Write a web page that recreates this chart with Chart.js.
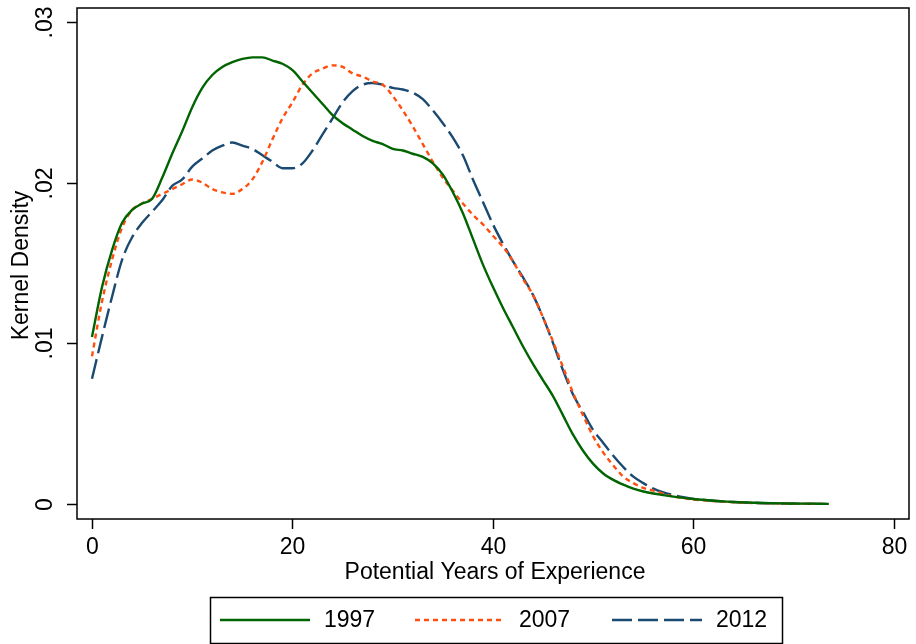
<!DOCTYPE html>
<html>
<head>
<meta charset="utf-8">
<script src="https://cdn.jsdelivr.net/npm/chart.js@4.4.1/dist/chart.umd.min.js"></script>
<style>
  html, body { margin: 0; padding: 0; background: #fff; }
  #wrap { width: 916px; height: 644px; }
</style>
</head>
<body>
<div id="wrap"><canvas id="kd" width="916" height="644"></canvas></div>
<script>
// ── Data (potential years of experience → kernel density) ──
const years = [0,1,2,3,4,5,6,7,8,9,10,11,12,13,14,15,16,17,18,19,20,21,22,23,24,25,26,27,28,29,
  30,31,32,33,34,35,36,37,38,39,40,41,42,43,44,45,46,47,48,49,50,51,52,53,54,55,56,57,58,59,
  60,61,62,63,64,65,66,67,68,69,70,71,72,73,73.5];

const dens1997 = [.0104,.0135,.0158,.0175,.0183,.0187,.0190,.0203,.0218,.0232,
  .0247,.0259,.0267,.0272,.0275,.0277,.0278,.0278,.0276,.0274,
  .0270,.0263,.0256,.0249,.0242,.0237,.0233,.0229,.0226,.0224,
  .0221,.0220,.0218,.0216,.0212,.0205,.0194,.0181,.0165,.0149,
  .0135,.0122,.0110,.0098,.0087,.0077,.0067,.0055,.0043,.0033,
  .0025,.0019,.0015,.0012,.00095,.00078,.00065,.00055,.00046,.00038,
  .00031,.00026,.00020,.00016,.00012,.00010,.00008,.00006,.00005,.00004,
  .00003,.00002,.00002,.00001,.00001];

const dens2007 = [.0092,.0126,.0152,.0172,.0183,.0187,.0190,.0193,.0196,.0199,
  .0202,.0200,.0196,.0194,.0193,.0196,.0202,.0213,.0227,.0240,
  .0250,.0261,.0268,.0271,.0273,.0272,.0268,.0266,.0263,.0261,
  .0254,.0245,.0235,.0224,.0213,.0203,.0195,.0187,.0180,.0174,
  .0167,.0160,.0151,.0140,.0130,.0116,.0101,.0085,.0069,.0055,
  .0042,.0032,.0024,.0017,.0013,.00100,.00083,.00064,.00046,.00036,
  .00028,.00023,.00018,.00014,.00011,.00008,.00006,.00005,.00004,.00003,
  .00002,.00002,.00001,.00001,.00001];

const dens2012 = [.0078,.0104,.0129,.0152,.0166,.0175,.0182,.0189,.0198,.0202,
  .0210,.0215,.0220,.0223,.0225,.0223,.0221,.0217,.0213,.0209,
  .0209,.0212,.0220,.0230,.0240,.0250,.0257,.0261,.0262,.0261,
  .0259,.0258,.0256,.0252,.0245,.0237,.0228,.0217,.0202,.0188,
  .0174,.0162,.0151,.0141,.0130,.0116,.0100,.0083,.0068,.0057,
  .0046,.0038,.0030,.0023,.0017,.0013,.00096,.00072,.00056,.00042,
  .00031,.00025,.00020,.00015,.00012,.00009,.00007,.00005,.00004,.00003,
  .00002,.00002,.00001,.00001,.00001];

const seriesNames = ['1997', '2007', '2012'];
const xTicks = [0, 20, 40, 60, 80];
const yTicks = [0, 0.01, 0.02, 0.03];
const yTickLabels = ['0', '.01', '.02', '.03'];

// ── Styles ──
const FONT = '"Liberation Sans", Arial, Helvetica, sans-serif';
const colors = ['#006400', '#ff4f10', '#1a4a72'];
const dashes = [[], [5, 4], [20, 6]];

const toPoints = vals => vals.map((v, i) => ({ x: years[i], y: v }));

const datasets = [dens1997, dens2007, dens2012].map((vals, i) => ({
  label: seriesNames[i],
  data: toPoints(vals),
  borderColor: colors[i],
  borderWidth: 2.4,
  borderDash: dashes[i],
  pointRadius: 0,
  fill: false,
  cubicInterpolationMode: 'monotone',
}));

// Stata-like frame, ticks, titles and boxed legend
const stataLook = {
  id: 'stataLook',
  afterDraw(chart) {
    const { ctx, chartArea: a, scales: { x, y } } = chart;
    ctx.save();
    ctx.strokeStyle = '#000';
    ctx.fillStyle = '#000';
    ctx.lineWidth = 1.5;
    ctx.strokeRect(a.left, a.top, a.right - a.left, a.bottom - a.top);

    ctx.font = '23px ' + FONT;
    ctx.textAlign = 'center';
    ctx.textBaseline = 'middle';
    xTicks.forEach(v => {
      const px = Math.round(x.getPixelForValue(v)) + 0.5;
      ctx.beginPath(); ctx.moveTo(px, a.bottom); ctx.lineTo(px, a.bottom + 10); ctx.stroke();
      ctx.fillText(String(v), px, a.bottom + 29);
    });
    yTicks.forEach((v, i) => {
      const py = Math.round(y.getPixelForValue(v)) + 0.5;
      ctx.beginPath(); ctx.moveTo(a.left - 10, py); ctx.lineTo(a.left, py); ctx.stroke();
      ctx.save();
      ctx.translate(a.left - 31, py);
      ctx.rotate(-Math.PI / 2);
      ctx.fillText(yTickLabels[i], 0, 0);
      ctx.restore();
    });

    // axis titles
    ctx.fillText('Potential Years of Experience', (a.left + a.right) / 2 + 2, a.bottom + 54);
    ctx.save();
    ctx.translate(22, (a.top + a.bottom) / 2 + 2);
    ctx.rotate(-Math.PI / 2);
    ctx.fillText('Kernel Density', 0, 0);
    ctx.restore();

    // legend
    ctx.lineWidth = 1.5;
    ctx.strokeRect(210.5, 597.5, 572, 46);
    const itemX = [220, 415, 612];
    const ly = 620;
    chart.data.datasets.forEach((ds, i) => {
      ctx.save();
      ctx.strokeStyle = ds.borderColor;
      ctx.lineWidth = ds.borderWidth;
      ctx.setLineDash(ds.borderDash);
      ctx.beginPath(); ctx.moveTo(itemX[i], ly); ctx.lineTo(itemX[i] + 90, ly); ctx.stroke();
      ctx.restore();
      ctx.textAlign = 'left';
      ctx.fillText(ds.label, itemX[i] + 104, ly + 1);
    });
    ctx.restore();
  }
};

new Chart(document.getElementById('kd'), {
  type: 'line',
  data: { datasets },
  options: {
    responsive: false,
    animation: false,
    devicePixelRatio: 1,
    layout: { padding: { left: 77, top: 8, right: 7, bottom: 125 } },
    plugins: { legend: { display: false }, tooltip: { enabled: false } },
    scales: {
      x: { type: 'linear', display: false, min: -1.496, max: 81.5 },
      y: { type: 'linear', display: false, min: -0.000934, max: 0.030871 },
    },
  },
  plugins: [stataLook],
});
</script>
</body>
</html>
